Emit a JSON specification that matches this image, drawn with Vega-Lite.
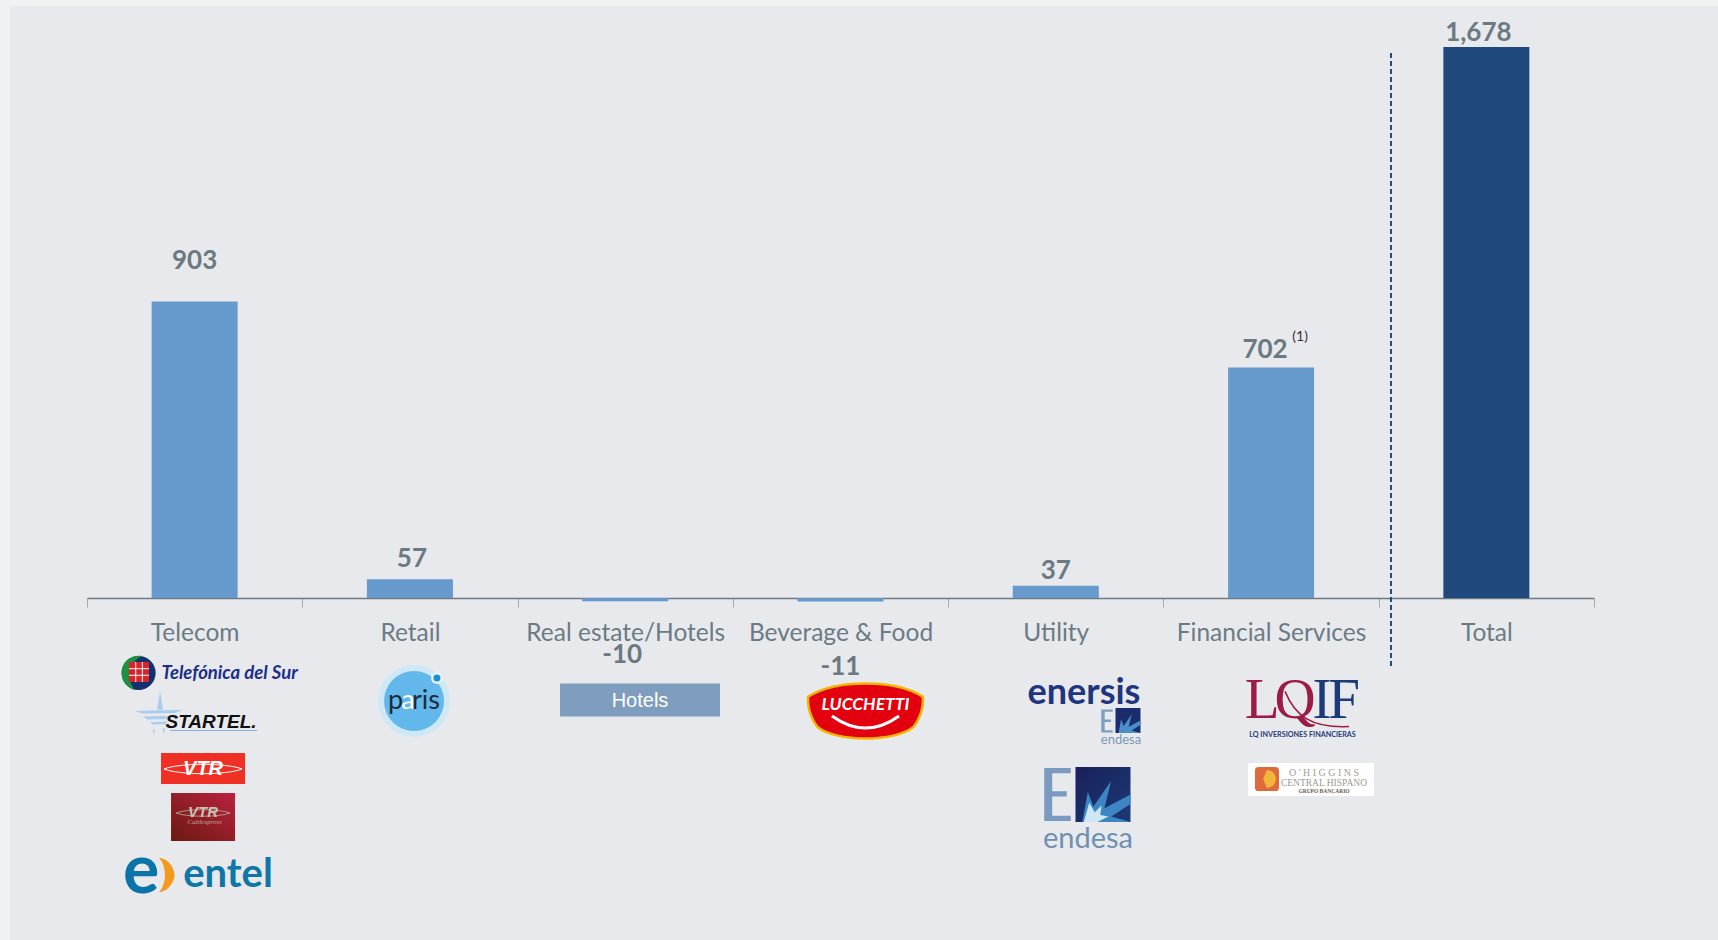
{
"$schema":"https://vega.github.io/schema/vega-lite/v6.json",
"width":1708,"height":934,
"autosize":{"type":"none"},
"padding":{"left":10,"top":6,"right":0,"bottom":0},
"background":"#f0f1f3",
"view":{"fill":"#e8e9ec","stroke":null},
"config":{"point":{"filled":true,"opacity":1,"strokeWidth":0},"text":{"font":"Lato","baseline":"middle","align":"center"}},
"data":{"values":[
{"sector":"Telecom","value":903,"label":"903","group":"Sector"},
{"sector":"Retail","value":57,"label":"57","group":"Sector"},
{"sector":"Real estate/Hotels","value":-10,"label":"-10","group":"Sector"},
{"sector":"Beverage & Food","value":-11,"label":"-11","group":"Sector"},
{"sector":"Utility","value":37,"label":"37","group":"Sector"},
{"sector":"Financial Services","value":702,"label":"702","group":"Sector"},
{"sector":"Total","value":1678,"label":"1,678","group":"Total"}
]},
"encoding":{
"x":{"field":"sector","type":"nominal","sort":null,
"scale":{"domain":["Telecom","Retail","Real estate/Hotels","Beverage & Food","Utility","Financial Services","Total"],"range":[77,1584],"padding":0},
"axis":{"title":null,"orient":"bottom","offset":-342,"labelAngle":0,"labelFont":"Lato","labelFontSize":24.5,"labelColor":"#6b7b85","labelPadding":14,"labelOverlap":false,"labelLimit":0,"tickBand":"extent","tickColor":"#a4abb1","tickSize":9,"domainColor":"#6e7a82","domainWidth":1.5,"grid":false}}
},
"layer":[
{"encoding":{"y":{"field":"value","type":"quantitative","scale":{"domain":[-1041.5,1802.8],"nice":false,"zero":false},"axis":null}},
"layer":[
{"mark":{"type":"bar","size":86},"encoding":{"color":{"field":"group","type":"nominal","scale":{"domain":["Sector","Total"],"range":["#6699cc","#1f497d"]},"legend":null}}},
{"transform":[{"filter":"datum.sector==='Telecom'"}],"mark":{"type":"text","dy":-40,"fontSize":26,"fontWeight":"bold","color":"#6b7982"},"encoding":{"text":{"field":"label"}}},
{"transform":[{"filter":"datum.sector==='Retail'"}],"mark":{"type":"text","dy":-20,"dx":2,"fontSize":26,"fontWeight":"bold","color":"#6b7982"},"encoding":{"text":{"field":"label"}}},
{"transform":[{"filter":"datum.sector==='Real estate/Hotels'"}],"mark":{"type":"text","dy":54,"dx":-3,"fontSize":26,"fontWeight":"bold","color":"#6b7982"},"encoding":{"text":{"field":"label"}}},
{"transform":[{"filter":"datum.sector==='Beverage & Food'"}],"mark":{"type":"text","dy":65,"fontSize":26,"fontWeight":"bold","color":"#6b7982"},"encoding":{"text":{"field":"label"}}},
{"transform":[{"filter":"datum.sector==='Utility'"}],"mark":{"type":"text","dy":-15,"fontSize":26,"fontWeight":"bold","color":"#6b7982"},"encoding":{"text":{"field":"label"}}},
{"transform":[{"filter":"datum.sector==='Financial Services'"}],"mark":{"type":"text","dy":-17,"dx":-6,"fontSize":26,"fontWeight":"bold","color":"#6b7982"},"encoding":{"text":{"field":"label"}}},
{"transform":[{"filter":"datum.sector==='Total'"}],"mark":{"type":"text","dy":-14,"dx":-8,"fontSize":26,"fontWeight":"bold","color":"#6b7982"},"encoding":{"text":{"field":"label"}}}
]},
{"encoding":{"y":{"datum":0,"type":"quantitative","scale":{"domain":[-1041.5,1802.8],"nice":false,"zero":false},"axis":null}},
"layer":[
{"data":{"values":[{"sector":"Total"}]},"mark":{"type":"rule","xOffset":-95.4,"stroke":"#1f497d","strokeWidth":2,"strokeDash":[5,3]},"encoding":{"y":{"datum":1659.7,"type":"quantitative"},"y2":{"datum":-207}}},
{"data":{"values":[{"sector":"Financial Services","note":"(1)"}]},"mark":{"type":"text","dx":29,"dy":-261,"fontSize":14,"color":"#333333"},"encoding":{"text":{"field":"note"}}},

{"data":{"values":[{"sector":"Telecom"}]},"mark":{"type":"point","shape":"circle","size":1156,"xOffset":-56,"yOffset":75,"fill":"#14306e"}},
{"data":{"values":[{"sector":"Telecom"}]},"mark":{"type":"point","shape":"M0.2,-1A1,1 0 0 0 -1,0A1,1 0 0 0 -0.2,1C-0.7,0.5 -0.7,-0.6 0.2,-1Z","size":1156,"xOffset":-56,"yOffset":75,"fill":"#1f8f42"}},
{"data":{"values":[{"sector":"Telecom"}]},"mark":{"type":"point","shape":"square","size":400,"xOffset":-55.6,"yOffset":74,"fill":"#d8232a"}},
{"data":{"values":[{"sector":"Telecom"}]},"mark":{"type":"point","filled":false,"shape":"M-0.33,-1V1M0.33,-1V1M-1,-0.33H1M-1,0.33H1","size":400,"xOffset":-55.6,"yOffset":74,"stroke":"#ffffff","strokeWidth":1}},
{"data":{"values":[{"sector":"Telecom","logo":"Telefónica del Sur"}]},"mark":{"type":"text","fontStyle":"italic","fontWeight":"bold","fontSize":18.5,"dx":35,"dy":75,"color":"#1b2f8a"},"encoding":{"text":{"field":"logo"}}},

{"data":{"values":[{"sector":"Telecom"}]},"mark":{"type":"point","shape":"M0,-1L0.12,-0.25L-0.12,-0.25ZM-1,-0.2L0.9,-0.25L0.6,-0.12L-0.7,-0.1ZM-0.7,0.02L0.3,0L0.25,0.12L-0.5,0.14ZM-0.4,0.25L0.3,0.22L0.2,0.32L-0.3,0.34ZM-0.3,0.55L-0.2,0.55L-0.25,0.75ZM0.1,0.5L0.2,0.5L0.15,0.75Z","size":2500,"xOffset":-34.6,"yOffset":118,"fill":"#a8cdee"}},
{"data":{"values":[{"sector":"Telecom","logo":"STARTEL."}]},"mark":{"type":"text","font":"Liberation Sans","fontStyle":"italic","fontWeight":"bold","fontSize":19,"dx":16.4,"dy":124,"color":"#111111"},"encoding":{"text":{"field":"logo"}}},
{"data":{"values":[{"sector":"Telecom"}]},"mark":{"type":"point","shape":"M-1,-0.012H1V0.012H-1Z","size":7569,"xOffset":19,"yOffset":132.6,"fill":"#7fb2e3"}},

{"data":{"values":[{"sector":"Telecom"}]},"mark":{"type":"point","shape":"M-1,-0.369H1V0.369H-1Z","size":7056,"xOffset":8.4,"yOffset":170.5,"fill":"#f03024"}},
{"data":{"values":[{"sector":"Telecom"}]},"mark":{"type":"point","filled":false,"shape":"M-1,0C-0.6,-0.16 0.6,-0.16 1,0C0.6,0.16 -0.6,0.16 -1,0Z","size":6084,"xOffset":8.4,"yOffset":171,"stroke":"#ffffff","strokeWidth":1}},
{"data":{"values":[{"sector":"Telecom","logo":"VTR"}]},"mark":{"type":"text","font":"Liberation Sans","fontStyle":"italic","fontWeight":"bold","fontSize":20,"dx":8.4,"dy":171,"color":"#ffffff"},"encoding":{"text":{"field":"logo"}}},

{"data":{"values":[{"sector":"Telecom"}]},"mark":{"type":"point","shape":"M-1,-0.75H1V0.75H-1Z","size":4096,"xOffset":8.4,"yOffset":219,"fill":{"gradient":"linear","x1":0,"y1":1,"x2":1,"y2":0,"stops":[{"offset":0,"color":"#6a1a10"},{"offset":1,"color":"#bb2240"}]}}},
{"data":{"values":[{"sector":"Telecom"}]},"mark":{"type":"point","filled":false,"shape":"M-1,0C-0.6,-0.16 0.6,-0.16 1,0C0.6,0.16 -0.6,0.16 -1,0Z","size":2916,"xOffset":8.4,"yOffset":215,"stroke":"#b8b0a0","strokeWidth":0.8}},
{"data":{"values":[{"sector":"Telecom","logo":"VTR"}]},"mark":{"type":"text","font":"Liberation Sans","fontStyle":"italic","fontWeight":"bold","fontSize":15,"dx":8.4,"dy":214,"color":"#c8c3b5"},"encoding":{"text":{"field":"logo"}}},
{"data":{"values":[{"sector":"Telecom","logo":"Cablexpress"}]},"mark":{"type":"text","font":"Liberation Serif","fontStyle":"italic","fontSize":7,"dx":10,"dy":224,"color":"#b8a898"},"encoding":{"text":{"field":"logo"}}},

{"data":{"values":[{"sector":"Telecom","logo":"e"}]},"mark":{"type":"text","fontWeight":"bold","fontSize":68,"baseline":"alphabetic","dx":-53.6,"dy":295,"color":"#0a74a8"},"encoding":{"text":{"field":"logo"}}},
{"data":{"values":[{"sector":"Telecom"}]},"mark":{"type":"point","shape":"M-0.4,-1C0.1,-1 0.5,-0.4 0.5,0C0.5,0.4 0.1,1 -0.4,1C0.05,0.5 0.05,-0.5 -0.4,-1Z","size":1156,"xOffset":-28.6,"yOffset":277,"fill":"#f39a1e"}},
{"data":{"values":[{"sector":"Telecom","logo":"entel"}]},"mark":{"type":"text","fontWeight":"bold","fontSize":40,"baseline":"alphabetic","dx":33.4,"dy":289,"color":"#0e77a8"},"encoding":{"text":{"field":"logo"}}},

{"data":{"values":[{"sector":"Retail"}]},"mark":{"type":"point","shape":"circle","size":5184,"xOffset":4.1,"yOffset":103,"fill":"#cfe8f6"}},
{"data":{"values":[{"sector":"Retail"}]},"mark":{"type":"point","shape":"circle","size":3600,"xOffset":4.1,"yOffset":103,"fill":"#62b8ea"}},
{"data":{"values":[{"sector":"Retail"}]},"mark":{"type":"point","shape":"circle","size":144,"xOffset":27,"yOffset":80,"fill":"#e4f2fa"}},
{"data":{"values":[{"sector":"Retail"}]},"mark":{"type":"point","shape":"circle","size":49,"xOffset":27,"yOffset":80,"fill":"#1f8fd0"}},
{"data":{"values":[{"sector":"Retail","logo":"p"}]},"mark":{"type":"text","fontSize":27,"dx":-14.3,"dy":103,"color":"#1c2b3a"},"encoding":{"text":{"field":"logo"}}},
{"data":{"values":[{"sector":"Retail","logo":"a"}]},"mark":{"type":"text","fontSize":27,"dx":-1.9,"dy":103,"color":"#ffffff"},"encoding":{"text":{"field":"logo"}}},
{"data":{"values":[{"sector":"Retail","logo":"ris"}]},"mark":{"type":"text","fontSize":27,"dx":16.1,"dy":103,"color":"#1c2b3a"},"encoding":{"text":{"field":"logo"}}},

{"data":{"values":[{"sector":"Real estate/Hotels"}]},"mark":{"type":"point","shape":"M-1,-0.206H1V0.206H-1Z","size":25600,"xOffset":14.8,"yOffset":102,"fill":"#7f9dbe"}},
{"data":{"values":[{"sector":"Real estate/Hotels","logo":"Hotels"}]},"mark":{"type":"text","font":"Liberation Sans","fontSize":20,"dx":14.8,"dy":103,"color":"#ffffff"},"encoding":{"text":{"field":"logo"}}},

{"data":{"values":[{"sector":"Beverage & Food"}]},"mark":{"type":"point","shape":"M-0.98,-0.22C-0.5,-0.52 0.5,-0.52 0.98,-0.22C1,0 0.9,0.2 0.82,0.3C0.5,0.56 -0.5,0.56 -0.82,0.3C-0.9,0.2 -1,0 -0.98,-0.22Z","size":13689,"xOffset":25,"yOffset":111.5,"fill":"#e3000f","stroke":"#f2b600","strokeWidth":2.5}},
{"data":{"values":[{"sector":"Beverage & Food","logo":"LUCCHETTI"}]},"mark":{"type":"text","fontStyle":"italic","fontWeight":"bold","fontSize":17.5,"dx":25,"dy":107,"color":"#ffffff"},"encoding":{"text":{"field":"logo"}}},
{"data":{"values":[{"sector":"Beverage & Food"}]},"mark":{"type":"point","filled":false,"shape":"M-1,-0.18Q0,0.54 1,-0.18","size":4489,"xOffset":25,"yOffset":124,"stroke":"#ffffff","strokeWidth":3}},

{"data":{"values":[{"sector":"Utility","logo":"enersis"}]},"mark":{"type":"text","fontWeight":"bold","fontSize":36,"dx":28.2,"dy":95,"color":"#1f3580"},"encoding":{"text":{"field":"logo"}}},
{"data":{"values":[{"sector":"Utility"}]},"mark":{"type":"point","shape":"M-0.5,-1H0.5V-0.8H-0.2V-0.12H0.35V0.08H-0.2V0.8H0.5V1H-0.5Z","size":529,"xOffset":51.2,"yOffset":123,"fill":"#7ea0c0"}},
{"data":{"values":[{"sector":"Utility"}]},"mark":{"type":"point","shape":"square","size":625,"xOffset":72.2,"yOffset":122.5,"fill":"#1a2e6e"}},
{"data":{"values":[{"sector":"Utility"}]},"mark":{"type":"point","shape":"M-0.75,1L-0.55,-0.1L-0.35,0.45L0.3,-0.5L0.05,0.5L1,0L1,0.35L0.3,0.8L1,1Z","size":625,"xOffset":72.2,"yOffset":122.5,"fill":"#4a90c8"}},
{"data":{"values":[{"sector":"Utility","logo":"endesa"}]},"mark":{"type":"text","fontSize":13,"dx":65.2,"dy":142,"color":"#7a9ab8"},"encoding":{"text":{"field":"logo"}}},
{"data":{"values":[{"sector":"Utility"}]},"mark":{"type":"point","shape":"M-0.5,-1H0.5V-0.8H-0.2V-0.12H0.35V0.08H-0.2V0.8H0.5V1H-0.5Z","size":2809,"xOffset":1.7,"yOffset":196.5,"fill":"#7b9ac0"}},
{"data":{"values":[{"sector":"Utility"}]},"mark":{"type":"point","shape":"square","size":3025,"xOffset":47.2,"yOffset":196.5,"fill":{"gradient":"linear","x1":0,"y1":0,"x2":1,"y2":1,"stops":[{"offset":0,"color":"#1a2059"},{"offset":1,"color":"#1b3a78"}]}}},
{"data":{"values":[{"sector":"Utility"}]},"mark":{"type":"point","shape":"M-0.75,1L-0.55,-0.1L-0.35,0.45L0.3,-0.5L0.05,0.5L1,0L1,0.35L0.3,0.8L1,1Z","size":3025,"xOffset":47.2,"yOffset":196.5,"fill":"#3d86c4"}},
{"data":{"values":[{"sector":"Utility"}]},"mark":{"type":"point","shape":"M-0.7,1L-0.5,0.3L-0.3,0.65L-0.05,0.4L-0.1,0.75L0.2,0.8L-0.2,1Z","size":3025,"xOffset":47.2,"yOffset":196.5,"fill":"#cfe6f5"}},
{"data":{"values":[{"sector":"Utility","logo":"endesa"}]},"mark":{"type":"text","fontSize":29,"dx":32.2,"dy":241,"color":"#6f8fb3"},"encoding":{"text":{"field":"logo"}}},

{"data":{"values":[{"sector":"Financial Services","logo":"L"}]},"mark":{"type":"text","font":"Liberation Serif","fontSize":57,"baseline":"alphabetic","dx":-9,"dy":120,"color":"#9b1c45"},"encoding":{"text":{"field":"logo"}}},
{"data":{"values":[{"sector":"Financial Services","logo":"Q"}]},"mark":{"type":"text","font":"Liberation Serif","fontSize":57,"baseline":"alphabetic","dx":24,"dy":120,"color":"#9b1c45"},"encoding":{"text":{"field":"logo"}}},
{"data":{"values":[{"sector":"Financial Services"}]},"mark":{"type":"point","filled":false,"shape":"M-1,-0.55C-0.7,0.2 -0.2,0.6 1,0.55","size":4096,"xOffset":46,"yOffset":111,"stroke":"#9b1c45","strokeWidth":1.5}},
{"data":{"values":[{"sector":"Financial Services","logo":"I"}]},"mark":{"type":"text","font":"Liberation Serif","fontSize":57,"baseline":"alphabetic","dx":51,"dy":120,"color":"#1b3a78"},"encoding":{"text":{"field":"logo"}}},
{"data":{"values":[{"sector":"Financial Services","logo":"F"}]},"mark":{"type":"text","font":"Liberation Serif","fontSize":57,"baseline":"alphabetic","dx":73,"dy":120,"color":"#1b3a78"},"encoding":{"text":{"field":"logo"}}},
{"data":{"values":[{"sector":"Financial Services","logo":"LQ INVERSIONES FINANCIERAS"}]},"mark":{"type":"text","fontWeight":"bold","fontSize":7.2,"dx":31.4,"dy":137,"color":"#1f3a7a"},"encoding":{"text":{"field":"logo"}}},

{"data":{"values":[{"sector":"Financial Services"}]},"mark":{"type":"point","shape":"M-1,-0.262H1V0.262H-1Z","size":15876,"xOffset":39.9,"yOffset":181.5,"fill":"#ffffff"}},
{"data":{"values":[{"sector":"Financial Services"}]},"mark":{"type":"point","shape":"M-0.7,-1H0.7Q1,-1 1,-0.7V0.7Q1,1 0.7,1H-0.7Q-1,1 -1,0.7V-0.7Q-1,-1 -0.7,-1Z","size":576,"xOffset":-4.1,"yOffset":181,"fill":"#e0693c"}},
{"data":{"values":[{"sector":"Financial Services"}]},"mark":{"type":"point","shape":"M-0.2,-1A1,1 0 0 1 -0.2,1L-0.6,0Z","size":324,"xOffset":-2.5,"yOffset":181,"fill":"#f3b63a"}},
{"data":{"values":[{"sector":"Financial Services","logo":"O ' H I G G I N S"}]},"mark":{"type":"text","font":"Liberation Serif","fontSize":10,"dx":52.9,"dy":175,"color":"#a69d92"},"encoding":{"text":{"field":"logo"}}},
{"data":{"values":[{"sector":"Financial Services","logo":"CENTRAL HISPANO"}]},"mark":{"type":"text","font":"Liberation Serif","fontSize":9.5,"dx":52.9,"dy":185,"color":"#a09a90"},"encoding":{"text":{"field":"logo"}}},
{"data":{"values":[{"sector":"Financial Services","logo":"GRUPO BANCARIO"}]},"mark":{"type":"text","font":"Liberation Serif","fontWeight":"bold","fontSize":5.5,"dx":52.9,"dy":193,"color":"#6b5a4a"},"encoding":{"text":{"field":"logo"}}}
]}
]
}
